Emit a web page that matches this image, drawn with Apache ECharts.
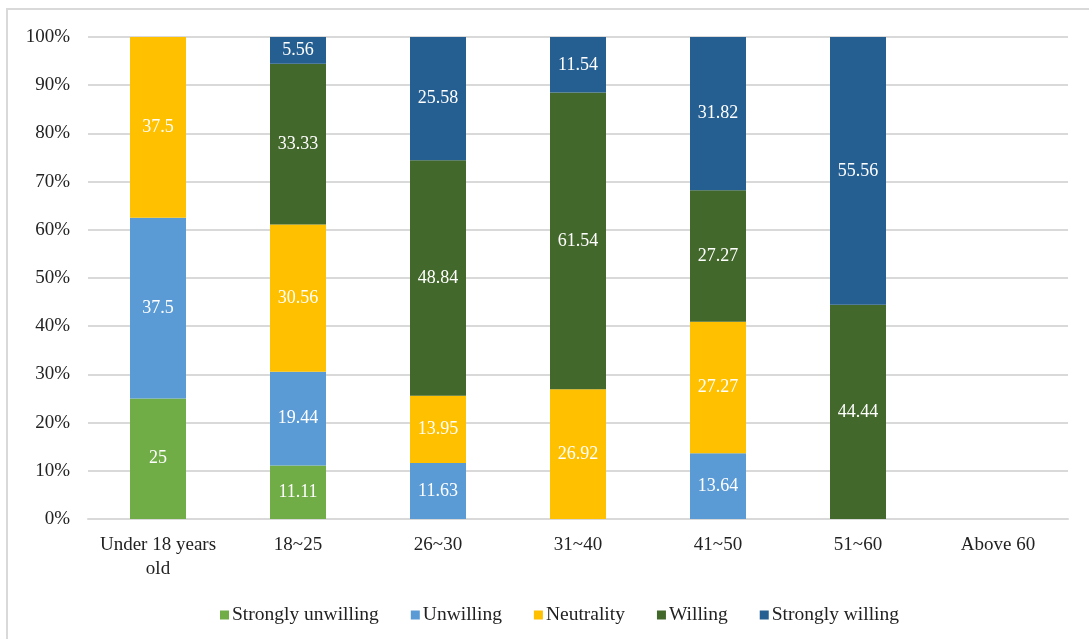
<!DOCTYPE html>
<html>
<head>
<meta charset="utf-8">
<script src="https://cdn.jsdelivr.net/npm/echarts@6/dist/echarts.min.js"></script>
<style>
  html, body { margin: 0; padding: 0; background: #fff; }
  .wrap { position: relative; width: 1089px; height: 639px; overflow: hidden; }
  .frame { position: absolute; left: 6px; top: 8px; width: 1200px; height: 700px; border: 2px solid #d9d9d9; box-sizing: border-box; }
  #chart { position: absolute; left: 0; top: 0; width: 1089px; height: 639px; }
</style>
</head>
<body>
<div class="wrap">
  <div class="frame"></div>
  <div id="chart"></div>
</div>
<script>
// age groups on the x axis
const categories = ['Under 18 years\nold', '18~25', '26~30', '31~40', '41~50', '51~60', 'Above 60']
const seriesNames = ['Strongly unwilling', 'Unwilling', 'Neutrality', 'Willing', 'Strongly willing']

// percentages per group (null = no segment)
const stronglyUnwilling = [25, 11.11, null, null, null, null, null]
const unwilling = [37.5, 19.44, 11.63, null, 13.64, null, null]
const neutrality = [37.5, 30.56, 13.95, 26.92, 27.27, null, null]
const willing = [null, 33.33, 48.84, 61.54, 27.27, 44.44, null]
const stronglyWilling = [null, 5.56, 25.58, 11.54, 31.82, 55.56, null]

const colors = ['#70ad47', '#5b9bd5', '#ffc000', '#43682b', '#255e91']
const allData = [stronglyUnwilling, unwilling, neutrality, willing, stronglyWilling]

const font = "'Liberation Serif', 'Times New Roman', serif"
const chart = echarts.init(document.getElementById('chart'))

const option = {
  animation: false,
  textStyle: { fontFamily: font },
  legend: {
    top: 600,
    left: 215,
    itemWidth: 9,
    itemHeight: 9,
    itemGap: 32,
    icon: 'rect',
    textStyle: { fontFamily: font, fontSize: 19.5, color: '#222', padding: [0, 0, 0, -2] },
    data: seriesNames
  },
  grid: { left: 88, right: 21, top: 37, bottom: 120 },
  xAxis: {
    type: 'category',
    data: categories,
    axisTick: { show: false },
    axisLine: { lineStyle: { color: '#d9d9d9', width: 2 } },
    axisLabel: { fontFamily: font, fontSize: 19, color: '#222', margin: 14, lineHeight: 24, interval: 0 }
  },
  yAxis: {
    type: 'value',
    min: 0,
    max: 100,
    interval: 10,
    axisLine: { show: false },
    axisTick: { show: false },
    axisLabel: { formatter: '{value}%', fontFamily: font, fontSize: 19, color: '#222', margin: 18 },
    splitLine: { lineStyle: { color: '#d9d9d9', width: 2 } }
  },
  series: seriesNames.map((name, i) => ({
    name,
    type: 'bar',
    stack: 'total',
    barWidth: '40%',
    itemStyle: { color: colors[i] },
    label: {
      show: true,
      position: 'inside',
      color: '#fff',
      fontFamily: font,
      fontSize: 18,
      formatter: p => (p.value == null ? '' : String(p.value))
    },
    data: allData[i]
  }))
}

chart.setOption(option)
</script>
</body>
</html>
